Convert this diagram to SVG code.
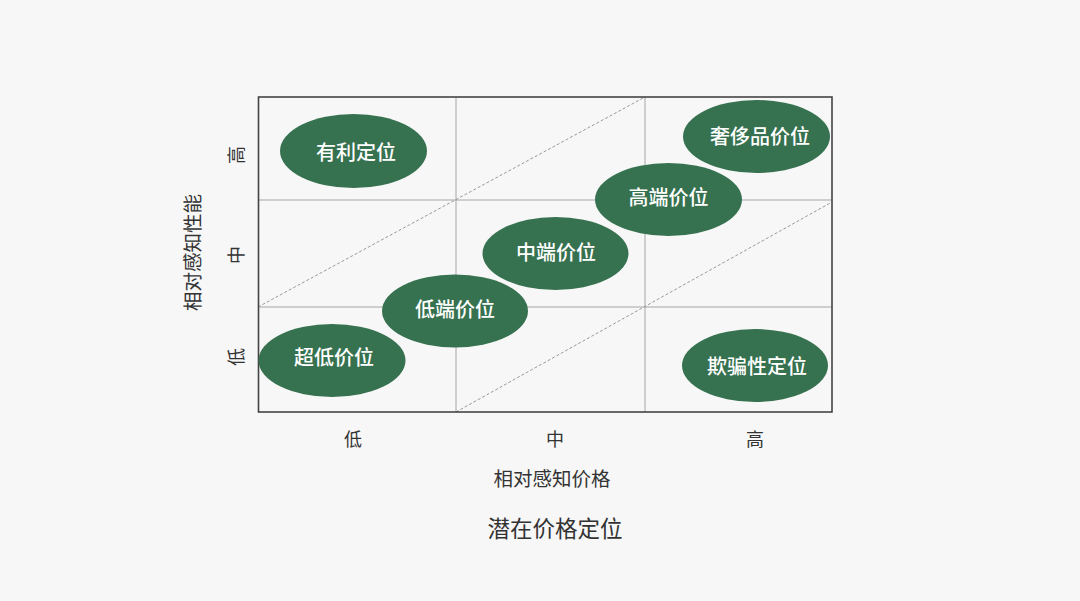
<svg xmlns="http://www.w3.org/2000/svg" width="1080" height="601" viewBox="0 0 1080 601">
<style>
.grid{stroke:#a6a6a6;stroke-width:1;fill:none}
.diag{stroke:#9a9a9a;stroke-width:1;stroke-dasharray:3 2;fill:none}
.frame{stroke:#444;stroke-width:1.6;fill:none}
.node ellipse{fill:#367150}
.node text{fill:#fff;font-family:"Noto Sans CJK SC","Noto Sans",sans-serif;font-size:20px;font-weight:500;text-anchor:middle;dominant-baseline:central}
.lbl{fill:#333;font-family:"Noto Sans CJK SC","Noto Sans",sans-serif;text-anchor:middle;dominant-baseline:central}
</style>
<rect width="1080" height="601" fill="#f7f7f7"/>
<g id="grid">
<line class="grid" x1="456" y1="97" x2="456" y2="412"/>
<line class="grid" x1="645" y1="97" x2="645" y2="412"/>
<line class="grid" x1="258" y1="200" x2="832" y2="200"/>
<line class="grid" x1="258" y1="307" x2="832" y2="307"/>
</g>
<g id="connectors">
<line class="diag" x1="258" y1="307" x2="645" y2="97"/>
<line class="diag" x1="456" y1="412" x2="832" y2="202"/>
</g>
<rect class="frame" x="258.5" y="97" width="573.5" height="315"/>
<g id="node-youli" class="node"><ellipse cx="353.5" cy="151" rx="73.5" ry="37"/><text x="356" y="151.5">有利定位</text></g>
<g id="node-chaodi" class="node"><ellipse cx="332" cy="360.5" rx="73.5" ry="36.5"/><text x="334" y="356.5">超低价位</text></g>
<g id="node-diduan" class="node"><ellipse cx="455" cy="311" rx="73" ry="36.5"/><text x="455" y="308.5">低端价位</text></g>
<g id="node-zhongduan" class="node"><ellipse cx="555.5" cy="253.5" rx="73" ry="36.5"/><text x="556" y="251.5">中端价位</text></g>
<g id="node-gaoduan" class="node"><ellipse cx="668.5" cy="199.5" rx="73.5" ry="36.5"/><text x="668.5" y="196.5">高端价位</text></g>
<g id="node-shechi" class="node"><ellipse cx="756.5" cy="136.5" rx="73.5" ry="36.5"/><text x="760" y="135.5">奢侈品价位</text></g>
<g id="node-qipian" class="node"><ellipse cx="755" cy="365.5" rx="73" ry="36.5"/><text x="757" y="365.5">欺骗性定位</text></g>
<g id="axis-x">
<text class="lbl" x="353" y="437.5" font-size="18">低</text>
<text class="lbl" x="555" y="437.5" font-size="18">中</text>
<text class="lbl" x="755" y="437.5" font-size="18">高</text>
<text class="lbl" x="552" y="477.5" font-size="19.5">相对感知价格</text>
</g>
<g id="axis-y">
<text class="lbl" font-size="18" transform="translate(234.5 155) rotate(-90)">高</text>
<text class="lbl" font-size="18" transform="translate(234.5 255) rotate(-90)">中</text>
<text class="lbl" font-size="18" transform="translate(234.5 357) rotate(-90)">低</text>
<text class="lbl" font-size="19.5" transform="translate(191.5 252.5) rotate(-90)">相对感知性能</text>
</g>
<text id="title" class="lbl" x="555" y="526.5" font-size="22.5">潜在价格定位</text>
</svg>
